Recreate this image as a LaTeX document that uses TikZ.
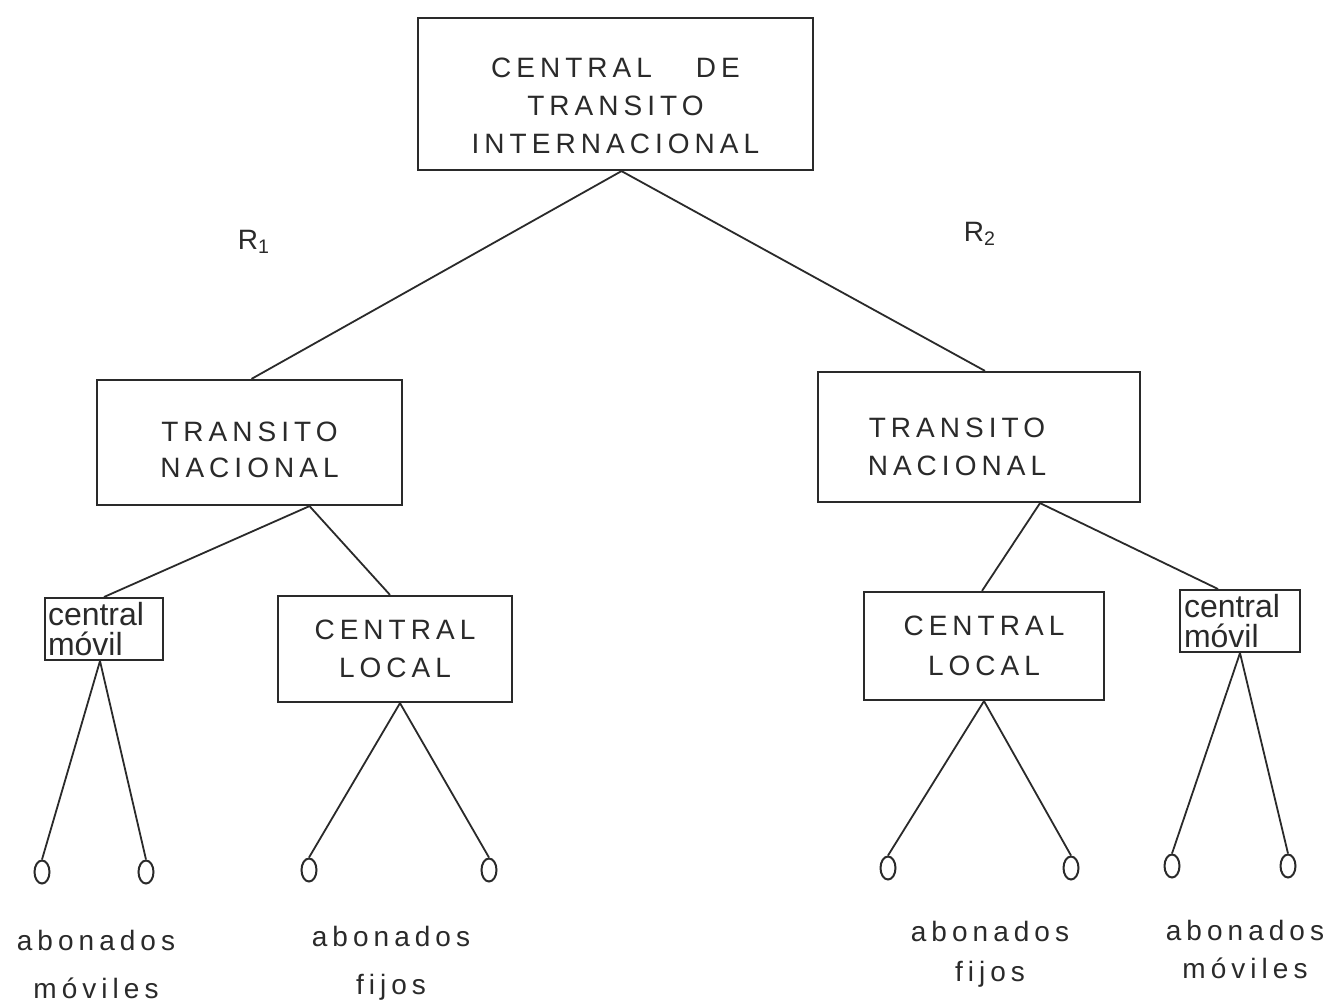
\documentclass[tikz,border=0pt]{standalone}
\usepackage{fontspec}
\setmainfont{Liberation Sans}[LetterSpace=18]
\newfontfamily\tightfont{Liberation Sans}
\usetikzlibrary{shapes.geometric}
\definecolor{ink}{HTML}{2A2A2A}
\begin{document}
\begin{tikzpicture}[x=0.5pt,y=-0.5pt,
  box/.style={draw=ink, line width=1.1pt, inner sep=0pt, text=ink, align=center,
    font=\fontsize{14}{19}\selectfont},
  smallbox/.style={draw=ink, line width=1pt, inner sep=1.5pt, text=ink, align=left,
    text width=56pt, minimum height=31pt, font=\tightfont\fontsize{16}{15}\selectfont},
  term/.style={draw=ink, ellipse, line width=1pt, minimum width=7.5pt, minimum height=11.5pt, inner sep=0pt},
  link/.style={draw=ink, line width=0.9pt},
  lbl/.style={text=ink, align=center, inner sep=0pt, font=\fontsize{14}{24}\selectfont}]
\fill[white] (0,0) rectangle (1333,1002);
\useasboundingbox (0,0) rectangle (1333,1002);

% boxes
\node[box, minimum width=197.5pt, minimum height=76pt] (top) at (615.5,94)
  {\rule{0pt}{22pt}CENTRAL\hspace{22pt}DE\\TRANSITO\\INTERNACIONAL};
\node[box, minimum width=152.5pt, minimum height=62.5pt, font=\fontsize{14}{18}\selectfont] (ltn) at (249.5,442.5)
  {\rule{0pt}{17pt}TRANSITO\\NACIONAL};
\node[box, minimum width=161pt, minimum height=65pt, font=\fontsize{14}{19}\selectfont] (rtn) at (979,437)
  {\rule{0pt}{20pt}TRANSITO\hspace*{22pt}\\NACIONAL\hspace*{22pt}};
\node[smallbox, minimum width=59pt] (lcm) at (104,629) {central\\móvil};
\node[box, minimum width=117pt, minimum height=53pt] (lcl) at (395,649) {CENTRAL\\LOCAL};
\node[box, minimum width=120pt, minimum height=54pt, font=\fontsize{14}{20}\selectfont] (rcl) at (984,646) {CENTRAL\\LOCAL};
\node[smallbox, minimum width=60pt, minimum height=31pt] (rcm) at (1240,621) {central\\móvil};

% route labels
\node[text=ink, font=\fontsize{14}{16}\selectfont] (r1) at (254,242) {R\textsubscript{1}};
\node[text=ink, font=\fontsize{14}{16}\selectfont] (r2) at (980,234) {R\textsubscript{2}};

% terminals
\node[term] (t1) at (42,872) {};
\node[term] (t2) at (146,872) {};
\node[term] (t3) at (309,870) {};
\node[term] (t4) at (489,870) {};
\node[term] (t5) at (888,868) {};
\node[term] (t6) at (1071,868) {};
\node[term] (t7) at (1172,866) {};
\node[term] (t8) at (1288,866) {};

% subscriber labels
\node[lbl] (a1) at (96,964) {abonados\\móviles};
\node[lbl] (a2) at (391,963) {abonados\\fijos};
\node[lbl, font=\fontsize{14}{20}\selectfont] (a3) at (990,954) {abonados\\fijos};
\node[lbl, font=\fontsize{14}{19}\selectfont] (a4) at (1245,949) {abonados\\móviles};

% connectors
\draw[link] ([xshift=3pt]top.south) -- ([xshift=1pt]ltn.north);
\draw[link] ([xshift=3pt]top.south) -- ([xshift=3pt]rtn.north);
\draw[link] ([xshift=30pt]ltn.south) -- (lcm.north);
\draw[link] ([xshift=30pt]ltn.south) -- ([xshift=-2.5pt]lcl.north);
\draw[link] ([xshift=30.5pt]rtn.south) -- ([xshift=-1pt]rcl.north);
\draw[link] ([xshift=30.5pt]rtn.south) -- ([xshift=-11pt]rcm.north);
\draw[link] ([xshift=-2pt]lcm.south) -- (t1.north);
\draw[link] ([xshift=-2pt]lcm.south) -- (t2.north);
\draw[link] ([xshift=2.5pt]lcl.south) -- (t3.north);
\draw[link] ([xshift=2.5pt]lcl.south) -- (t4.north);
\draw[link] (rcl.south) -- (t5.north);
\draw[link] (rcl.south) -- (t6.north);
\draw[link] (rcm.south) -- (t7.north);
\draw[link] (rcm.south) -- (t8.north);
\end{tikzpicture}
\end{document}
